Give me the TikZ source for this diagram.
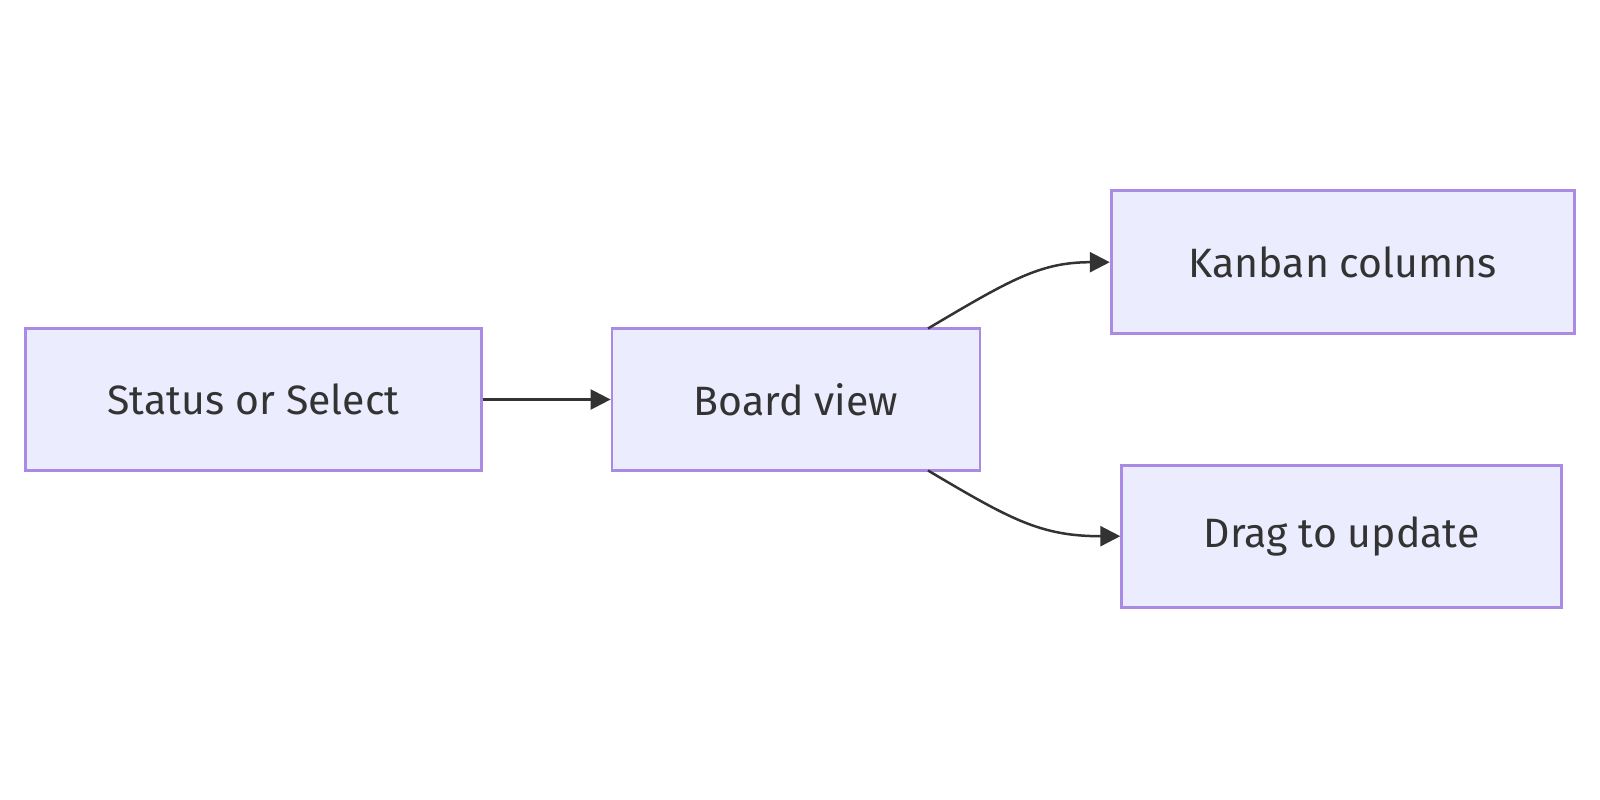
\documentclass[tikz,border=0pt]{standalone}
\usepackage{fontspec}
\setmainfont{Fira Sans}
\usetikzlibrary{arrows.meta}
\definecolor{boxfill}{HTML}{ECECFF}
\definecolor{boxline}{HTML}{A98BE6}
\definecolor{edge}{HTML}{333333}
\definecolor{txt}{HTML}{333333}
\begin{document}
\begin{tikzpicture}[x=1pt,y=-1pt,
  box/.style={draw=boxline,fill=boxfill,line width=2.8pt,inner sep=0pt,text=txt,font=\fontsize{41}{45}\selectfont},
  conn/.style={draw=edge,line width=2.5pt,-{Triangle[length=20pt,width=20pt]}}]
\useasboundingbox (0,0) rectangle (1600,800);
\node[box,minimum width=456pt,minimum height=142pt] (a) at (253.5,399.5) {Status or Select};
\node[box,minimum width=368pt,minimum height=142pt] (b) at (796,399.5) {Board view};
\node[box,minimum width=463pt,minimum height=143pt] (c) at (1342.7,262.2) {Kanban columns};
\node[box,minimum width=440pt,minimum height=142pt] (d) at (1341.7,536.2) {Drag to update};
\draw[conn] (a.east) -- (b.west);
\coordinate (b1) at (928,328.5);
\coordinate (b2) at (928,470.5);
\draw[conn] (b1) .. controls (1010,280) and (1040,262.2) .. (c.west);
\draw[conn] (b2) .. controls (1010,519) and (1040,536.2) .. (d.west);
\end{tikzpicture}
\end{document}
